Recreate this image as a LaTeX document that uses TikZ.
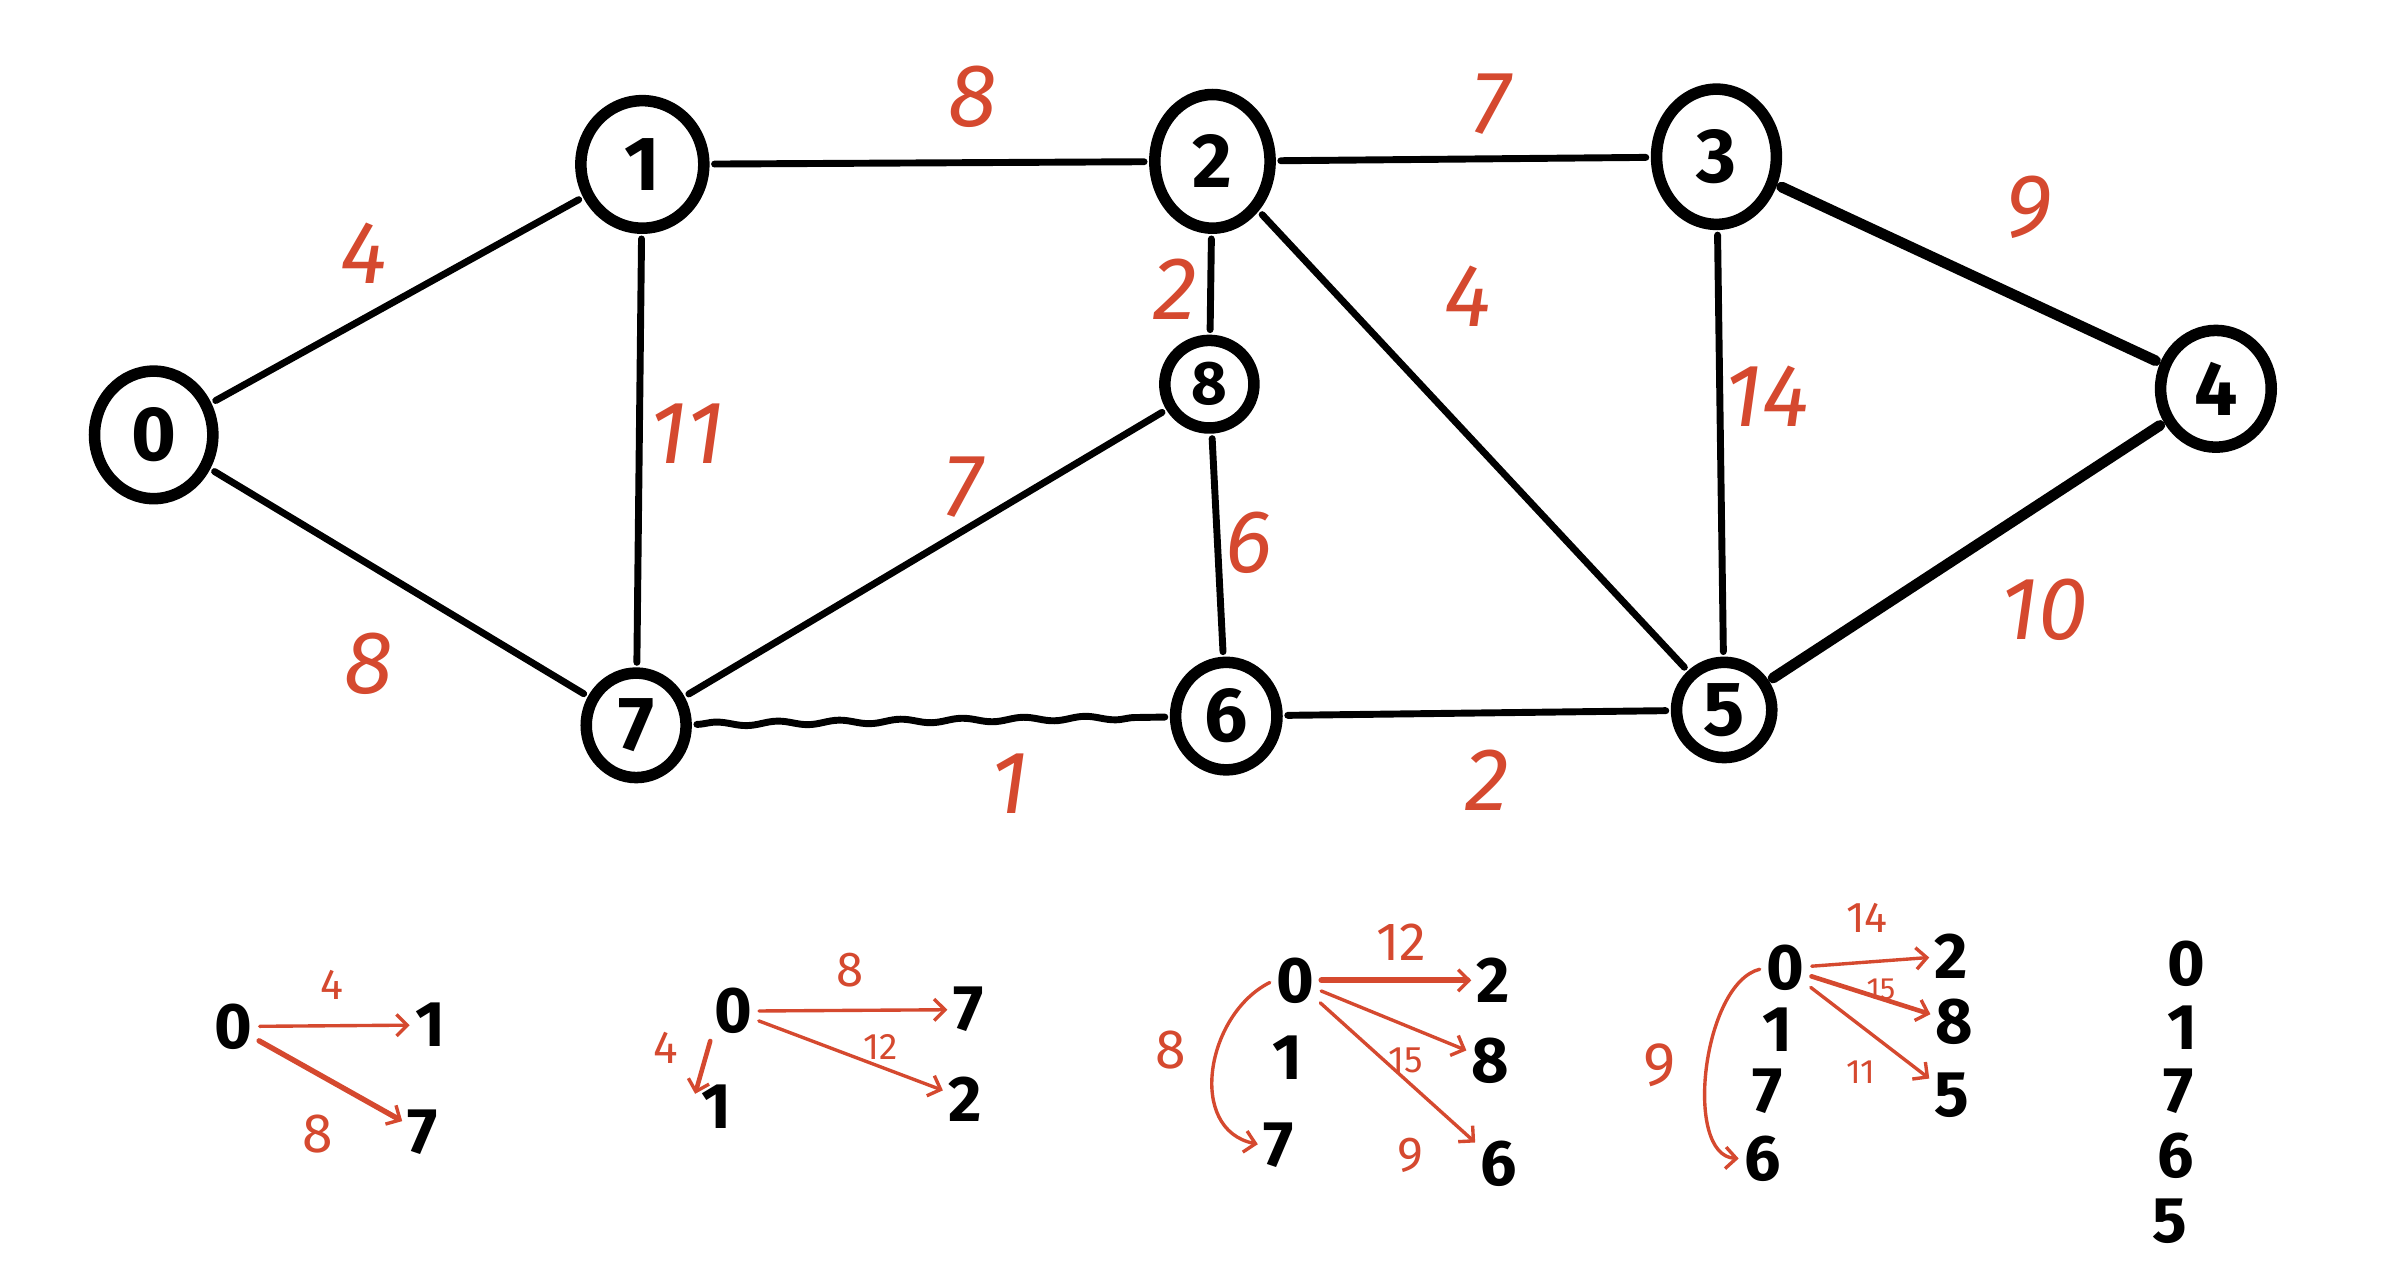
\documentclass[tikz,border=0pt]{standalone}
\usepackage{fontspec}
\setmainfont{Fira Sans}
\usetikzlibrary{shapes.geometric,arrows.meta,decorations.pathmorphing}
\definecolor{pen}{HTML}{D5492F}
\begin{document}
\begin{tikzpicture}[x=1pt,y=-1pt,
  vert/.style={draw=black, line width=7.5pt, ellipse, inner sep=0pt, outer sep=7pt,
    font=\fontsize{50}{50}\selectfont\bfseries},
  edge/.style={line width=4.5pt, line cap=round},
  heavy/.style={line width=7pt, line cap=round},
  wlabel/.style={text=pen, font=\fontsize{58}{58}\selectfont\itshape},
  dig/.style={font=\fontsize{42}{42}\selectfont\bfseries, inner sep=1.5pt},
  sl/.style={text=pen, font=\fontsize{#1}{#1}\selectfont, inner sep=0pt},
  sl/.default=28,
  rarrow/.style={draw=pen, line width=2.2pt, line cap=round, shorten <=3pt, shorten >=2pt,
    -{Straight Barb[length=7pt,width=14pt,line width=2.2pt]}},
]
\useasboundingbox (0,0) rectangle (1554,836);
\fill[white] (0,0) rectangle (1554,836);

% ---------- graph ----------
\node[vert, minimum width=77pt, minimum height=83pt] (n0) at (100,283) {0};
\node[vert, minimum width=80pt, minimum height=83pt] (n1) at (418,107) {1};
\node[vert, minimum width=75pt, minimum height=87pt] (n2) at (789,105) {2};
\node[vert, minimum width=78pt, minimum height=88pt] (n3) at (1117,102) {3};
\node[vert, minimum width=72pt, minimum height=76pt] (n4) at (1442,253) {4};
\node[vert, minimum width=62pt, minimum height=62pt] (n5) at (1122,462) {5};
\node[vert, minimum width=66pt, minimum height=70pt] (n6) at (798,466) {6};
\node[vert, minimum width=65pt, minimum height=68pt] (n7) at (414,472) {7};
\node[vert, minimum width=58pt, minimum height=57pt, font=\fontsize{40}{40}\selectfont\bfseries] (n8) at (787,250) {8};

\draw[edge] (n0) -- (n1);
\draw[edge] (n0) -- (n7);
\draw[edge] (n1) -- (n2);
\draw[edge] (n1) -- (n7);
\draw[edge] (n2) -- (n3);
\draw[edge] (n2) -- (n8);
\draw[edge] (n2) -- (n5);
\draw[heavy] (n3) -- (n4);
\draw[edge] (n3) -- (n5);
\draw[edge] (n7) -- (n8);
\draw[edge] (n8) -- (n6);
\draw[edge, decorate, decoration={snake, amplitude=1.3pt, segment length=40pt}] (n7) -- (n6);
\draw[edge] (n6) -- (n5);
\draw[heavy] (n5) -- (n4);

\node[wlabel] (w01) at (237,165) {4};
\node[wlabel] (w07) at (240,432) {8};
\node[wlabel] (w12) at (633,63) {8};
\node[wlabel] (w17) at (447,282) {11};
\node[wlabel] (w23) at (970,68) {7};
\node[wlabel] (w28) at (765,188) {2};
\node[wlabel] (w25) at (955,193) {4};
\node[wlabel] (w34) at (1320,135) {9};
\node[wlabel] (w35) at (1150,258) {14};
\node[wlabel] (w78) at (627,317) {7};
\node[wlabel] (w86) at (813,353) {6};
\node[wlabel] (w76) at (657,510) {1};
\node[wlabel] (w65) at (968,508) {2};
\node[wlabel] (w54) at (1330,397) {10};

% ---------- panel 1 ----------
\node[dig] (a0) at (152,668) {0};
\node[dig] (a1) at (280,667) {1};
\node[dig] (a7) at (275,737) {7};
\draw[rarrow] (a0) -- (a1);
\draw[rarrow, line width=3.5pt] (a0) -- (a7);
\node[sl=28] (a4l) at (216,641) {4};
\node[sl=36] (a8l) at (207,738) {8};

% ---------- panel 2 ----------
\node[dig] (b0) at (477,658) {0};
\node[dig] (b7) at (630,657) {7};
\node[dig] (b1) at (466,720) {1};
\node[dig] (b2) at (628,715) {2};
\draw[rarrow] (b0) -- (b7);
\draw[rarrow, line width=3pt, shorten >=-8pt] (b0.south west) -- (b1.north west);
\draw[rarrow] (b0) -- (b2);
\node[sl=32] (b8l) at (553,631) {8};
\node[sl=30] (b4l) at (433,682) {4};
\node[sl=24] (b12l) at (573,681) {12};

% ---------- panel 3 ----------
\node[dig] (c0) at (843,638) {0};
\node[dig] (c2) at (972,638) {2};
\node[dig] (c1) at (838,688) {1};
\node[dig] (c8) at (970,690) {8};
\node[dig] (c7) at (832,745) {7};
\node[dig] (c6) at (975,757) {6};
\draw[rarrow, line width=4pt] (c0) -- (c2);
\draw[rarrow] (c0) -- (c8);
\draw[rarrow] (c0) -- (c6);
\draw[rarrow] (c0.west) .. controls (785,660) and (772,735) .. (c7.west);
\node[sl=35] (c12l) at (912,613) {12};
\node[sl=24] (c15l) at (915,690) {15};
\node[sl=32] (c9l) at (918,752) {9};
\node[sl=36] (c8l) at (762,683) {8};

% ---------- panel 4 ----------
\node[dig] (d0) at (1162,630) {0};
\node[dig] (d2) at (1270,622) {2};
\node[dig] (d1) at (1157,670) {1};
\node[dig] (d8) at (1272,665) {8};
\node[dig] (d7) at (1150,710) {7};
\node[dig] (d5) at (1270,713) {5};
\node[dig] (d6) at (1147,754) {6};
\draw[rarrow] (d0) -- (d2);
\draw[rarrow, line width=3pt] (d0) -- (d8);
\draw[rarrow] (d0) -- (d5);
\draw[rarrow] (d0.west) .. controls (1108,640) and (1095,752) .. (d6.west);
\node[sl=28] (d14l) at (1215,597) {14};
\node[sl=20] (d15l) at (1224,644) {15};
\node[sl=22] (d11l) at (1211,698) {11};
\node[sl=40] (d9l) at (1080,693) {9};

% ---------- panel 5 ----------
\node[dig] (e0) at (1423,627) {0};
\node[dig] (e1) at (1420,669) {1};
\node[dig] (e7) at (1418,710) {7};
\node[dig] (e6) at (1416,752) {6};
\node[dig] (e5) at (1412,795) {5};
\end{tikzpicture}
\end{document}
